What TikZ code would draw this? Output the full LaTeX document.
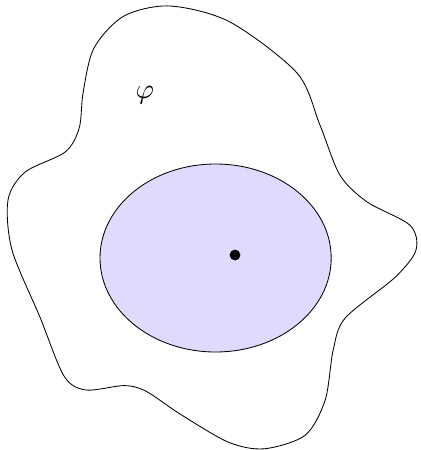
\documentclass[tikz,border=0pt]{standalone}
\usepackage{amsmath, amssymb}
\usepackage{tikz}
\usetikzlibrary{positioning, calc}
\definecolor{regionfill}{RGB}{224,218,255}

\begin{document}
\begin{tikzpicture}[line width=0.6pt]
  % 邊界框
  \useasboundingbox (0,0) rectangle (10.5,-11.25);

  % 外部區域
  \draw plot[smooth cycle] coordinates {
    (4.25,-0.15) (5.75,-0.55) (7.43,-1.83) (8.0,-3.13) (8.5,-4.38)
    (9.18,-5.05) (10.25,-5.63) (10.4,-6.25) (9.88,-6.93) (8.63,-7.95)
    (8.33,-8.75) (8.13,-10.0) (7.63,-10.88) (6.6,-11.22) (5.7,-11.05)
    (4.5,-10.35) (3.65,-9.78) (3.1,-9.64) (2.15,-9.75) (1.6,-9.4)
    (1.0,-7.93) (0.3,-6.25) (0.2,-5.0) (0.63,-4.3) (1.63,-3.8)
    (1.98,-3.2) (2.08,-2.3) (2.35,-1.2) (3.1,-0.4)};

  % 標籤
  \node[scale=2] (phi) at (3.62,-2.38) {$\varphi$};

  % 內部橢圓
  \draw[fill=regionfill] (5.39,-6.45) ellipse (2.89 and 2.35);

  % 點
  \fill (5.875,-6.375) circle (0.135);
\end{tikzpicture}
\end{document}
